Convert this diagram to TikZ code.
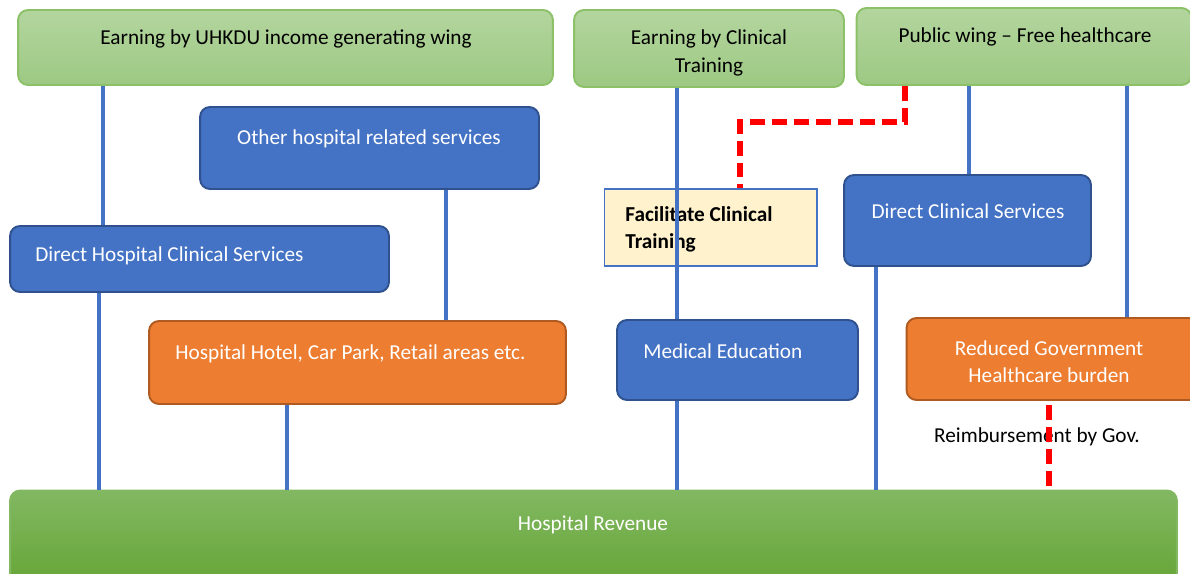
\documentclass[tikz,border=0pt]{standalone}
\usepackage{fontspec}
\setmainfont{Carlito}

\definecolor{lgreen}{HTML}{B3D59E}
\definecolor{lgreenb}{HTML}{9DC983}
\definecolor{dgreen}{HTML}{82B862}
\definecolor{dgreenb}{HTML}{66A536}
\definecolor{ogreen}{HTML}{8CC168}
\definecolor{bluef}{HTML}{4472C4}
\definecolor{blued}{HTML}{2F528F}
\definecolor{orangef}{HTML}{ED7D31}
\definecolor{oranged}{HTML}{AE5A21}
\definecolor{yellowf}{HTML}{FFF2CC}

\begin{document}
\begin{tikzpicture}[x=0.02cm, y=-0.02cm,
    box/.style = {rounded corners=0.2cm, line width=1.1pt, inner sep=0pt},
    topbox/.style = {box, draw=ogreen, top color=lgreen, bottom color=lgreenb},
    bluebox/.style = {box, draw=blued, fill=bluef},
    orangebox/.style = {box, draw=oranged, fill=orangef},
    txt/.style = {font=\fontsize{12.1}{15.5}\selectfont, inner sep=0pt},
    wtxt/.style = {txt, text=white},
    link/.style = {draw=bluef, line width=2.3pt},
    gov/.style = {draw=red, line width=3pt, dash pattern=on 8.5pt off 4pt}]

    \useasboundingbox (0,0) rectangle (1190,574);

    % top row
    \node[topbox, minimum width=10.7cm, minimum height=1.5cm] (uhkdu) at (285.5,47.5) {};
    \node[txt] (uhkdu-t) at (286,39) {Earning by UHKDU income generating wing};

    \node[topbox, minimum width=5.4cm, minimum height=1.54cm] (clin) at (709,48.5) {};
    \node[txt, align=center] (clin-t) at (709,53) {Earning by Clinical\\Training};

    \node[topbox, minimum width=6.7cm, minimum height=1.54cm] (pub) at (1024,46.5) {};
    \node[txt] (pub-t) at (1025,37) {Public wing -- Free healthcare};

    % services
    \node[bluebox, minimum width=6.78cm, minimum height=1.64cm] (other) at (369.5,148) {};
    \node[wtxt] (other-t) at (369,139) {Other hospital related services};

    \node[bluebox, minimum width=7.58cm, minimum height=1.32cm] (dhcs) at (199.5,259) {};
    \node[wtxt, anchor=west] (dhcs-t) at (35,256) {Direct Hospital Clinical Services};

    \node[orangebox, minimum width=8.34cm, minimum height=1.66cm] (hotel) at (357.5,362.5) {};
    \node[wtxt, anchor=west] (hotel-t) at (175,354) {Hospital Hotel, Car Park, Retail areas etc.};

    \node[draw=bluef, fill=yellowf, line width=0.6pt, minimum width=4.26cm, minimum height=1.54cm] (facil) at (710.5,227.5) {};
    \node[txt, font=\fontsize{12.1}{15.5}\selectfont\bfseries, align=left, anchor=west] (facil-t) at (625,229) {Facilitate Clinical\\Training};

    \node[bluebox, minimum width=4.94cm, minimum height=1.82cm] (dcs) at (967.5,220.5) {};
    \node[wtxt] (dcs-t) at (968,211) {Direct Clinical Services};

    \node[bluebox, minimum width=4.82cm, minimum height=1.6cm] (meded) at (737.5,360) {};
    \node[wtxt, anchor=west] (meded-t) at (643,351) {Medical Education};

    \node[orangebox, minimum width=5.9cm, minimum height=1.64cm] (reduced) at (1054,359) {};
    \node[wtxt, align=center] (reduced-t) at (1049,362) {Reduced Government\\Healthcare burden};

    % revenue
    \node[box, draw=dgreen, top color=dgreen, bottom color=dgreenb, minimum width=23.34cm, minimum height=1.9cm] (revenue) at (593.5,538) {};
    \node[wtxt] (revenue-t) at (593,525) {Hospital Revenue};

    % columns
    \coordinate (c1) at (103,0);
    \coordinate (c2) at (99,0);
    \coordinate (c3) at (446,0);
    \coordinate (c4) at (287,0);
    \coordinate (c5) at (677,0);
    \coordinate (c6) at (969,0);
    \coordinate (c7) at (876,0);
    \coordinate (c8) at (1127,0);
    \coordinate (c9) at (905,0);
    \coordinate (c10) at (740,0);
    \coordinate (c11) at (1049,0);
    \coordinate (bend) at (0,122);

    \draw[link] (uhkdu.south -| c1) -- (dhcs.north -| c1);
    \draw[link] (dhcs.south -| c2) -- (revenue.north -| c2);
    \draw[link] (other.south -| c3) -- (hotel.north -| c3);
    \draw[link] (hotel.south -| c4) -- (revenue.north -| c4);
    \draw[link] (clin.south -| c5) -- (meded.north -| c5);
    \draw[link] (meded.south -| c5) -- (revenue.north -| c5);
    \draw[link] (pub.south -| c6) -- (dcs.north -| c6);
    \draw[link] (dcs.south -| c7) -- (revenue.north -| c7);
    \draw[link] (pub.south -| c8) -- (reduced.north -| c8);

    \node[txt] (reimb) at (1037,437) {Reimbursement by Gov.};

    \draw[gov] (pub.south -| c9) -- (bend -| c9) -- (bend -| c10) -- (facil.north -| c10);
    \draw[gov] ([yshift=-0.08cm]reduced.south -| c11) -- (revenue.north -| c11);

\end{tikzpicture}
\end{document}
